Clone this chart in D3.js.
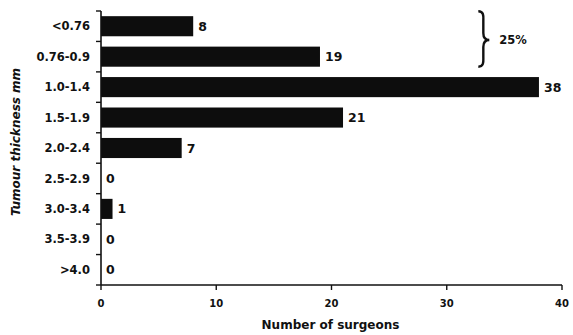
<!DOCTYPE html>
<html>
<head>
<meta charset="utf-8">
<script src="https://cdn.jsdelivr.net/npm/d3@7"></script>
<style>
  body { margin: 0; background: #fff; }
  text { font-family: "DejaVu Sans", Arial, sans-serif; font-weight: bold; fill: #111; }
</style>
</head>
<body>
<div id="chart"></div>
<script>
// Data
const categories = ['<0.76', '0.76-0.9', '1.0-1.4', '1.5-1.9', '2.0-2.4', '2.5-2.9', '3.0-3.4', '3.5-3.9', '>4.0']
const surgeons = [8, 19, 38, 21, 7, 0, 1, 0, 0]
const xTicks = [0, 10, 20, 30, 40]
const braceCats = ['<0.76', '0.76-0.9']
const braceLabel = '25%'

const width = 573, height = 335
const margin = {left: 101, right: 11, top: 11, bottom: 50}
const w = width - margin.left - margin.right
const h = height - margin.top - margin.bottom

const svg = d3.select('#chart').append('svg')
  .attr('width', width)
  .attr('height', height)

const g = svg.append('g')
  .attr('transform', `translate(${margin.left},${margin.top})`)

const xScale = d3.scaleLinear().domain([0, 40]).range([0, w])
const yScale = d3.scaleBand().domain(categories).range([0, h]).paddingInner(0.34).paddingOuter(0.17)

// Bars
g.selectAll('.bar')
  .data(categories)
  .join('rect')
  .attr('class', 'bar')
  .attr('x', 0)
  .attr('y', d => yScale(d))
  .attr('width', (d, i) => xScale(surgeons[i]))
  .attr('height', yScale.bandwidth())
  .style('fill', '#0d0d0d')

// Value labels
g.selectAll('.val')
  .data(categories)
  .join('text')
  .attr('class', 'val')
  .attr('x', (d, i) => xScale(surgeons[i]) + 5)
  .attr('y', d => yScale(d) + yScale.bandwidth() / 2)
  .attr('dy', '0.36em')
  .style('font-size', '12.5px')
  .text((d, i) => surgeons[i])

// Y axis: line + ticks at band boundaries
const bounds = d3.range(categories.length + 1).map(i => i * h / categories.length)
const yAxis = g.append('g')
yAxis.append('line')
  .attr('x1', 0).attr('x2', 0)
  .attr('y1', 0).attr('y2', h)
  .style('stroke', '#111').style('stroke-width', 1.6)
yAxis.selectAll('.ytick')
  .data(bounds)
  .join('line')
  .attr('x1', -5).attr('x2', 0)
  .attr('y1', d => d).attr('y2', d => d)
  .style('stroke', '#111').style('stroke-width', 1.4)
yAxis.selectAll('.ylab')
  .data(categories)
  .join('text')
  .attr('x', -11)
  .attr('y', d => yScale(d) + yScale.bandwidth() / 2)
  .attr('dy', '0.36em')
  .attr('text-anchor', 'end')
  .style('font-size', '11.5px')
  .text(d => d)

// X axis
const xAxis = g.append('g').attr('transform', `translate(0,${h})`)
xAxis.append('line')
  .attr('x1', 0).attr('x2', w)
  .style('stroke', '#111').style('stroke-width', 1.4)
xAxis.selectAll('.xtick')
  .data(xTicks)
  .join('line')
  .attr('x1', d => xScale(d)).attr('x2', d => xScale(d))
  .attr('y1', 0).attr('y2', 5)
  .style('stroke', '#111').style('stroke-width', 1.4)
xAxis.selectAll('.xlab')
  .data(xTicks)
  .join('text')
  .attr('x', d => xScale(d))
  .attr('y', 22)
  .attr('text-anchor', 'middle')
  .style('font-size', '10px')
  .text(d => d)

// Axis titles
svg.append('text')
  .attr('x', margin.left + w * 0.5 - 1)
  .attr('y', 329)
  .attr('text-anchor', 'middle')
  .style('font-size', '12px')
  .text('Number of surgeons')

svg.append('text')
  .attr('transform', `translate(20,142) rotate(270)`)
  .attr('text-anchor', 'middle')
  .style('font-size', '12px')
  .style('font-style', 'italic')
  .text('Tumour thickness mm')

// Brace over first two categories
const by0 = yScale(braceCats[0]) - 5
const by1 = yScale(braceCats[1]) + yScale.bandwidth()
const bx = xScale(33) + 1
const bm = (by0 + by1) / 2 + 1
const bw = 7
g.append('path')
  .attr('d', `M${bx - 4},${by0} C${bx + 2},${by0} ${bx + 1},${by0 + 6} ${bx + 1},${by0 + 10}
    L${bx + 1},${bm - 7} C${bx + 1},${bm - 2} ${bx + 3},${bm} ${bx + bw},${bm}
    C${bx + 3},${bm} ${bx + 1},${bm + 2} ${bx + 1},${bm + 7}
    L${bx + 1},${by1 - 10} C${bx + 1},${by1 - 6} ${bx + 2},${by1} ${bx - 4},${by1}`)
  .style('fill', 'none')
  .style('stroke', '#111')
  .style('stroke-width', 2.4)

g.append('text')
  .attr('x', bx + bw + 10)
  .attr('y', bm)
  .attr('dy', '0.36em')
  .style('font-size', '11.5px')
  .text(braceLabel)
</script>
</body>
</html>
